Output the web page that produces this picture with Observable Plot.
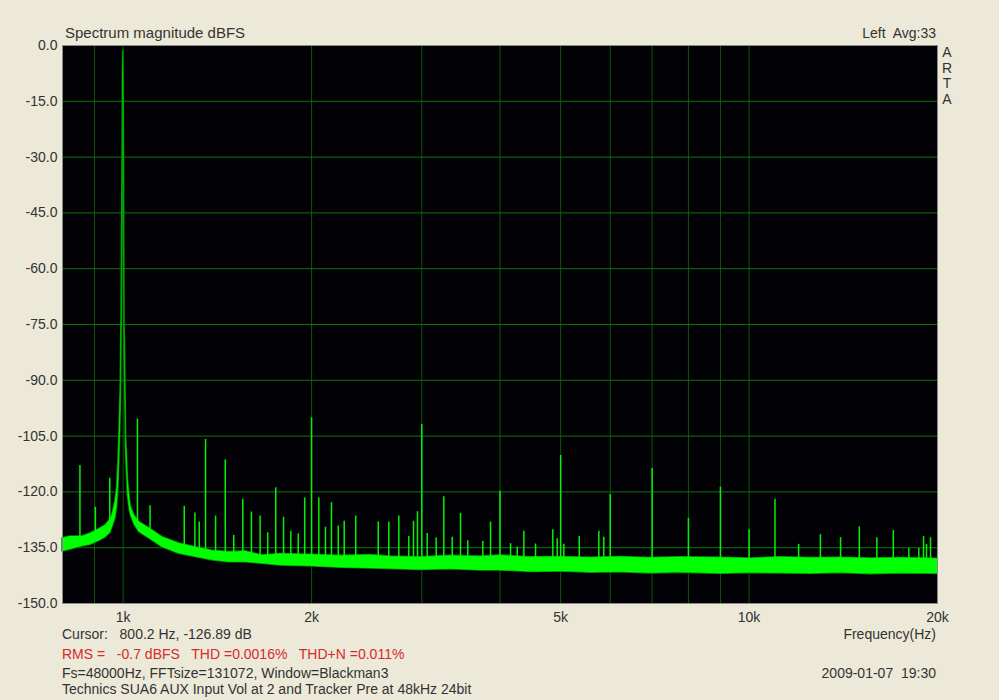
<!DOCTYPE html>
<html>
<head>
<meta charset="utf-8">
<script src="https://cdn.jsdelivr.net/npm/d3@7"></script>
<script src="https://cdn.jsdelivr.net/npm/@observablehq/plot@0.6"></script>
<style>
  html, body { margin: 0; padding: 0; background: #ECE9D8; }
  #wrap { position: relative; width: 999px; height: 700px; font-family: "Liberation Sans", Arial, sans-serif; font-size: 14px; color: #333; }
  .t { position: absolute; white-space: pre; line-height: 16px; }
  .r { text-align: right; }
</style>
</head>
<body>
<div id="wrap"></div>
<script>
// ---- axis ticks ----
const xTickValues = [1000, 2000, 5000, 10000, 20000];
const xTickLabels = ["1k", "2k", "5k", "10k", "20k"];
const gridFreqs = [900, 1000, 2000, 3000, 4000, 5000, 6000, 7000, 8000, 9000, 10000];
const dbTicks = [0, -15, -30, -45, -60, -75, -90, -105, -120, -135, -150];
const dbGrid = [-15, -30, -45, -60, -75, -90, -105, -120, -135];

// ---- spectrum band incl. 1 kHz fundamental (upper / lower envelope, dBFS) ----
const bandFreq = [800, 824, 861, 887, 903, 920, 937, 954, 961, 972, 978, 983, 988, 991, 994, 997, 999, 1000,
  1001.5, 1003, 1005, 1007, 1011, 1018, 1025, 1029, 1043, 1061, 1101, 1156, 1229, 1306, 1389, 1477, 1570, 1669, 1784,
  1992, 2224, 2484, 2674, 2986, 3334, 3723, 4000, 4476, 5000, 5581, 6233, 6960, 7771,
  9000, 10054, 11230, 12540, 14003, 15637, 17462, 20000];
const bandTop = [-132.5, -132.0, -132.0, -131.2, -130.6, -129.8, -129.0, -127.5, -126.3, -122.5, -119, -112, -100, -91.8, -72.6, -40, -10, -1.5,
  -10, -30, -75, -82.8, -105, -117, -122, -124.1, -126.5, -128.1, -129.8, -132.2, -133.9, -134.9, -135.8, -136.2, -136.0, -137.1, -136.7,
  -136.9, -137.2, -137.0, -137.4, -137.6, -137.2, -137.4, -137.1, -137.6, -137.5, -137.7, -137.5, -137.8, -137.6,
  -137.7, -137.9, -137.6, -137.8, -137.7, -137.9, -137.8, -138.0];
const bandBottom = [-136.0, -135.5, -134.6, -134.2, -133.6, -133.0, -132.2, -131.0, -129.5, -127.0, -124, -118, -107, -98, -80, -50, -20, -8,
  -20, -40, -80, -90, -110, -121, -125, -126.3, -128.8, -130.8, -132.5, -134.9, -136.6, -137.5, -138.4, -138.9, -138.9, -139.3, -139.8,
  -140.0, -140.4, -140.6, -140.7, -141.0, -140.8, -141.1, -141.1, -141.5, -141.4, -141.7, -141.6, -141.9, -141.7,
  -142.0, -141.8, -141.9, -142.0, -141.8, -142.1, -141.9, -142.0];

// ---- harmonic / spurious spikes ----
const spikeFreq = [853, 903, 952, 1054, 1104, 1252, 1302, 1323, 1354, 1405, 1456, 1502, 1553, 1603, 1655,
  1702, 1753, 1804, 1853, 1904, 1950, 2000, 2054, 2105, 2152, 2206, 2255, 2353, 2556, 2657, 2757, 2860, 2910,
  2953, 3000, 3060, 3163, 3253, 3355, 3459, 3553, 3755, 3863, 4000, 4158, 4262, 4367, 4559, 4858, 4937, 5000,
  5059, 5354, 5754, 5860, 6000, 7000, 8000, 9000, 10000, 11000, 12000, 13000, 14000, 15000, 16000, 17000,
  18000, 18671, 19000, 19207, 19492];
const spikeDb = [-112.9, -124.1, -116.3, -100.4, -123.7, -123.9, -125.7, -128.1, -105.9, -126.5, -111.4, -131.7,
  -122, -125.4, -126.5, -131, -118.9, -126.8, -130.6, -131.3, -121.6, -100.1, -121.6, -129.5, -122.9, -129.2,
  -127.9, -126.5, -128.1, -128.1, -126.5, -132, -127.9, -125.3, -101.9, -131.2, -132.4, -121.3, -132.2, -125.8,
  -133.1, -133.3, -128.1, -119.8, -133.9, -134.9, -130.6, -134, -130.2, -132.6, -110.2, -134.1, -132, -130.6,
  -132.2, -120.7, -113.7, -127.1, -118.7, -130.2, -122, -134.1, -131.5, -132.3, -129.4, -132.3, -130.4, -135.2,
  -135.2, -132, -134.1, -132.3];

// ---- build tables ----
const band = bandFreq.map((f, i) => ({f, top: bandTop[i], bottom: bandBottom[i]}));
const floorAt = d3.scaleLog().domain(bandFreq).range(bandTop);
const spikes = spikeFreq.map((f, i) => ({f, db: spikeDb[i], base: floorAt(f) - 1.5}));
const labelOf = new Map(xTickValues.map((v, i) => [v, xTickLabels[i]]));

const chart = Plot.plot({
  width: 999,
  height: 700,
  marginLeft: 62,
  marginRight: 62,
  marginTop: 45,
  marginBottom: 97,
  x: {type: "log", domain: [800, 20000]},
  y: {domain: [-150, 0]},
  style: {background: "transparent", fontFamily: "'Liberation Sans', Arial, sans-serif", fontSize: "14px", color: "#333", overflow: "visible"},
  marks: [
    Plot.frame({fill: "#020206"}),
    Plot.ruleX(gridFreqs, {stroke: "#0a560a", strokeWidth: 1}),
    Plot.ruleY(dbGrid, {stroke: "#0d740d", strokeWidth: 1}),
    Plot.areaY(band, {x: "f", y1: "bottom", y2: "top", fill: "#00a000", stroke: "#009800", strokeWidth: 1.6, curve: "linear"}),
    Plot.ruleX(spikes, {x: "f", y1: "base", y2: "db", stroke: "#00f400", strokeWidth: 1.5}),
    Plot.areaY(band, {x: "f", y1: "bottom", y2: "top", fill: "#00ff00", curve: "linear"}),
    Plot.frame({stroke: "#8a8a8a", strokeWidth: 1}),
    Plot.axisY({ticks: dbTicks, tickFormat: d => d.toFixed(1), tickSize: 0, tickPadding: 5, label: null, fontSize: 14}),
    Plot.axisX({ticks: xTickValues, tickFormat: d => labelOf.get(d), tickSize: 0, tickPadding: 9, label: null, fontSize: 14})
  ]
});

const wrap = document.getElementById("wrap");
wrap.appendChild(chart);

function addText(txt, css, cls) {
  const d = document.createElement("div");
  d.className = "t " + (cls || "");
  d.textContent = txt;
  Object.assign(d.style, css);
  wrap.appendChild(d);
}
addText("Spectrum magnitude dBFS", {left: "65px", top: "25px", fontSize: "15px"});
addText("Left  Avg:33", {right: "63px", top: "25px"}, "r");
addText("A\nR\nT\nA", {left: "941px", top: "45px", lineHeight: "15.6px", width: "12px", textAlign: "center"});
addText("Cursor:   800.2 Hz, -126.89 dB", {left: "62px", top: "626px"});
addText("Frequency(Hz)", {right: "63px", top: "626px"}, "r");
addText("RMS =   -0.7 dBFS   THD =0.0016%   THD+N =0.011%", {left: "62px", top: "646px", color: "#d42b2b"});
addText("Fs=48000Hz, FFTsize=131072, Window=Blackman3", {left: "62px", top: "665px"});
addText("2009-01-07  19:30", {right: "63px", top: "665px"}, "r");
addText("Technics SUA6 AUX Input Vol at 2 and Tracker Pre at 48kHz 24bit", {left: "62px", top: "681px"});
</script>
</body>
</html>
